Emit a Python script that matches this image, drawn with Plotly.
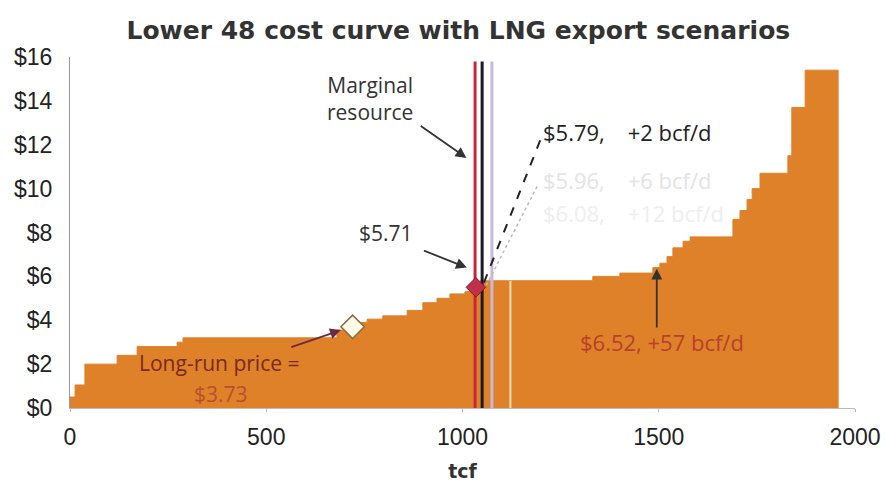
import plotly.graph_objects as go

# Step cost curve: cumulative resource (tcf) where each step starts, and cost ($/MMBtu)
step_tcf = [0, 13, 38, 120, 171, 273, 288, 680, 726, 757, 797, 859, 899, 935, 968, 1006,
            1034, 1045, 1332, 1401, 1485, 1503, 1521, 1536, 1562, 1580, 1689, 1707, 1725,
            1738, 1758, 1829, 1839, 1873, 1957]
step_cost = [0.5, 1.05, 2.0, 2.4, 2.8, 3.0, 3.2, 3.55, 3.9, 4.05, 4.2, 4.45, 4.8, 5.0, 5.2, 5.3,
             5.5, 5.8, 6.0, 6.15, 6.4, 6.6, 6.9, 7.3, 7.6, 7.8, 8.6, 9.0, 9.5,
             10.0, 10.7, 11.5, 13.7, 15.4, 15.4]
end_tcf = 1957

# Scenario lines (tcf)
marginal_tcf = [1032, 1050, 1075]
marginal_colors = ["#c8243c", "#1a1a2a", "#c9b8de"]
line_top = 15.8

# Points
longrun_tcf, longrun_price = 720, 3.7
marginal_pt_tcf, marginal_pt_price = 1034, 5.5

x_ticks = [0, 500, 1000, 1500, 2000]
y_ticks = [0, 2, 4, 6, 8, 10, 12, 14, 16]
y_labels = ["$" + str(v) for v in y_ticks]

orange = "#df8129"

fig = go.Figure()
fig.add_trace(go.Scatter(
    x=step_tcf + [end_tcf], y=step_cost + [0],
    mode="lines", line=dict(shape="hv", color=orange, width=1),
    fill="tozeroy", fillcolor=orange, hoverinfo="skip", showlegend=False))

# light stripe artefact inside the fill
fig.add_trace(go.Scatter(x=[1122, 1122], y=[0, 5.8], mode="lines",
                         line=dict(color="#f6e2b8", width=2), showlegend=False, hoverinfo="skip"))

for xv, c in zip(marginal_tcf, marginal_colors):
    fig.add_trace(go.Scatter(x=[xv, xv], y=[0, line_top], mode="lines",
                             line=dict(color=c, width=3), showlegend=False, hoverinfo="skip"))

fig.add_trace(go.Scatter(x=[marginal_pt_tcf], y=[marginal_pt_price], mode="markers",
                         marker=dict(symbol="diamond", size=15, color="#c03048",
                                     line=dict(color="#8a1a2a", width=1)),
                         showlegend=False, hoverinfo="skip"))
fig.add_trace(go.Scatter(x=[longrun_tcf], y=[longrun_price], mode="markers",
                         marker=dict(symbol="diamond", size=18, color="#fffbe8",
                                     line=dict(color="#8a6a40", width=1.5)),
                         showlegend=False, hoverinfo="skip"))

# leader lines from the $5.79 label
fig.add_trace(go.Scatter(x=[1198, 1052], y=[12.2, 5.6], mode="lines",
                         line=dict(color="#222", width=2, dash="dash"), showlegend=False, hoverinfo="skip"))
fig.add_trace(go.Scatter(x=[1190, 1058], y=[10.1, 5.5], mode="lines",
                         line=dict(color="#bbbbbb", width=1.5, dash="dot"), showlegend=False, hoverinfo="skip"))

fam = "Open Sans, DejaVu Sans"
ann_font = dict(family=fam, size=21, color="#333")
annotations = [
    dict(x=765, y=14.1, text="Marginal<br>resource", showarrow=False, font=ann_font, align="center"),
    dict(x=1010, y=11.4, ax=890, ay=12.9, axref="x", ayref="y", xref="x", yref="y", text="",
         showarrow=True, arrowhead=2, arrowsize=1.2, arrowwidth=1.8, arrowcolor="#333"),
    dict(x=805, y=8.0, text="$5.71", showarrow=False, font=ann_font),
    dict(x=1011, y=6.4, ax=898, ay=7.2, axref="x", ayref="y", xref="x", yref="y", text="",
         showarrow=True, arrowhead=2, arrowsize=1.2, arrowwidth=1.8, arrowcolor="#333"),
    dict(x=1200, y=12.6, text="$5.79,    +2 bcf/d", showarrow=False, xanchor="left",
         font=dict(family=fam, size=22, color="#222")),
    dict(x=1200, y=10.4, text="$5.96,    +6 bcf/d", showarrow=False, xanchor="left",
         font=dict(family=fam, size=22, color="#e4e4e4")),
    dict(x=1200, y=8.9, text="$6.08,    +12 bcf/d", showarrow=False, xanchor="left",
         font=dict(family=fam, size=22, color="#eeeeee")),
    dict(x=1508, y=3.0, text="$6.52, +57 bcf/d", showarrow=False,
         font=dict(family=fam, size=22, color="#b8402c")),
    dict(x=1495, y=6.35, ax=1495, ay=3.6, axref="x", ayref="y", xref="x", yref="y", text="",
         showarrow=True, arrowhead=2, arrowsize=1.2, arrowwidth=1.8, arrowcolor="#333"),
    dict(x=380, y=2.05, text="Long-run price =", showarrow=False,
         font=dict(family=fam, size=21, color="#7a2a20")),
    dict(x=385, y=0.65, text="$3.73", showarrow=False,
         font=dict(family=fam, size=21, color="#b8502c")),
    dict(x=690, y=3.55, ax=560, ay=2.75, axref="x", ayref="y", xref="x", yref="y", text="",
         showarrow=True, arrowhead=2, arrowsize=1.2, arrowwidth=1.8, arrowcolor="#6a2a40"),
]

tick_font = dict(family="Liberation Sans Narrow, Liberation Sans", size=23, color="#222")

fig.update_layout(
    width=890, height=490,
    margin=dict(l=62, r=43, t=49, b=90),
    paper_bgcolor="white", plot_bgcolor="white",
    title=dict(text="<b>Lower 48 cost curve with LNG export scenarios</b>",
               x=0.506, xanchor="center", y=0.955, yanchor="middle",
               font=dict(family="DejaVu Sans", size=25, color="#333")),
    xaxis=dict(range=[0, 2000], tickvals=x_ticks, showgrid=False, zeroline=False, automargin=False,
               showline=True, linecolor="#bbb", linewidth=1, ticks="outside", ticklen=3,
               tickcolor="#bbb", ticklabelstandoff=5, tickfont=tick_font,
               title=dict(text="<b>tcf</b>", font=dict(family="DejaVu Sans", size=19, color="#333"),
                          standoff=16)),
    yaxis=dict(range=[0, 16], tickvals=y_ticks, ticktext=y_labels, showgrid=False, zeroline=False,
               automargin=False,
               showline=True, linecolor="#999", linewidth=1, ticks="", ticklabelstandoff=12,
               tickfont=tick_font),
    annotations=annotations,
)

fig.write_html("out.html")
